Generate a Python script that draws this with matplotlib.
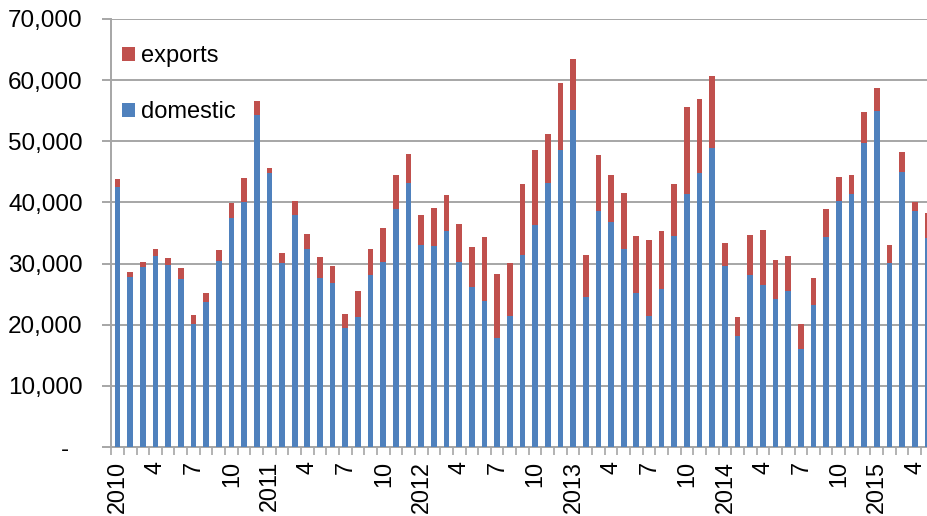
import numpy as np
import matplotlib.pyplot as plt
from matplotlib.ticker import FuncFormatter, FixedLocator

plt.rcParams['font.family'] = ['Liberation Sans', 'DejaVu Sans']

# Monthly totals, Jan 2010 - May 2015
domestic = [42580, 27750, 29390, 31300, 29720, 27430, 20070, 23770, 30480, 37410, 40130, 54250,
            44820, 30040, 37900, 32390, 27700, 26770, 19410, 21320, 28140, 30260, 38930, 43240,
            33040, 32930, 35330, 30320, 26170, 23830, 17880, 21430, 31350, 36260, 43180, 48580,
            55070, 24540, 38660, 36750, 32330, 25140, 21430, 25900, 34460, 41440, 44870, 48910,
            29660, 18210, 28140, 26450, 24210, 25460, 15980, 23170, 34300, 40190, 41440, 49780,
            54910, 30040, 44930, 38550, 34130]
total = [43840, 28630, 30200, 32390, 30970, 29330, 21650, 25190, 32170, 39910, 44000, 56600,
         45580, 31730, 40190, 34840, 31020, 29610, 21760, 25520, 32390, 35770, 44440, 47930,
         38000, 39040, 41220, 36480, 32720, 34410, 28240, 30040, 42970, 48530, 51200, 59540,
         63470, 31350, 47760, 44440, 41490, 34510, 33860, 35280, 42970, 55670, 56980, 60690,
         33320, 21320, 34680, 35550, 30530, 31190, 20070, 27590, 38880, 44110, 44440, 54850,
         58780, 33040, 48200, 40080, 38280]
exports = [t - d for t, d in zip(total, domestic)]

years = [2010, 2011, 2012, 2013, 2014, 2015]
n = len(domestic)
x = np.arange(n)

# label every quarter: year at January, month number otherwise
tick_pos = [i for i in range(n) if i % 3 == 0]
tick_lbl = [str(years[i // 12]) if i % 12 == 0 else str(i % 12 + 1) for i in tick_pos]

blue = '#4f81bd'
red = '#c0504d'
grid_c = '#a6a6a6'

fig = plt.figure(figsize=(9.28, 5.16), dpi=100)
# plot area runs slightly past the right edge, so the last month is cut off
ax = fig.add_axes([111.2 / 928, 1 - 447 / 516, 822.5 / 928, 428 / 516])

ax.bar(x, domestic, width=0.45, color=blue, label='domestic', zorder=3)
ax.bar(x, exports, width=0.45, bottom=domestic, color=red, label='exports', zorder=3)

ax.set_xlim(-0.5, n - 0.5)
ax.set_ylim(0, 70000)
ax.set_yticks(np.arange(0, 70001, 10000))
ax.yaxis.set_major_formatter(FuncFormatter(lambda v, p: '-  ' if v == 0 else f'{v:,.0f}'))
ax.yaxis.grid(True, color=grid_c, linewidth=1.4, zorder=0)

ax.set_xticks(tick_pos)
ax.set_xticklabels(tick_lbl, rotation=90, va='top', ha='center')
ax.xaxis.set_minor_locator(FixedLocator(np.arange(-0.5, n, 1.0)))
ax.tick_params(axis='x', which='major', length=0, pad=10, labelsize=16.8)
ax.tick_params(axis='x', which='minor', length=5.5, width=1.2, color=grid_c, direction='out')
ax.tick_params(axis='y', length=6.5, width=1.4, color=grid_c, pad=14, labelsize=17.5)

for s in ['top', 'right']:
    ax.spines[s].set_visible(False)
for s in ['left', 'bottom']:
    ax.spines[s].set_color(grid_c)
    ax.spines[s].set_linewidth(1.4)

h, l = ax.get_legend_handles_labels()
ax.legend(h[::-1], l[::-1], loc='upper left', bbox_to_anchor=(122 / 928, 1 - 45 / 516),
          bbox_transform=fig.transFigure, frameon=False, fontsize=17,
          handlelength=0.55, handleheight=0.55, handletextpad=0.25,
          labelspacing=1.45, borderpad=0, borderaxespad=0)

fig.savefig('out.png', dpi=100)
